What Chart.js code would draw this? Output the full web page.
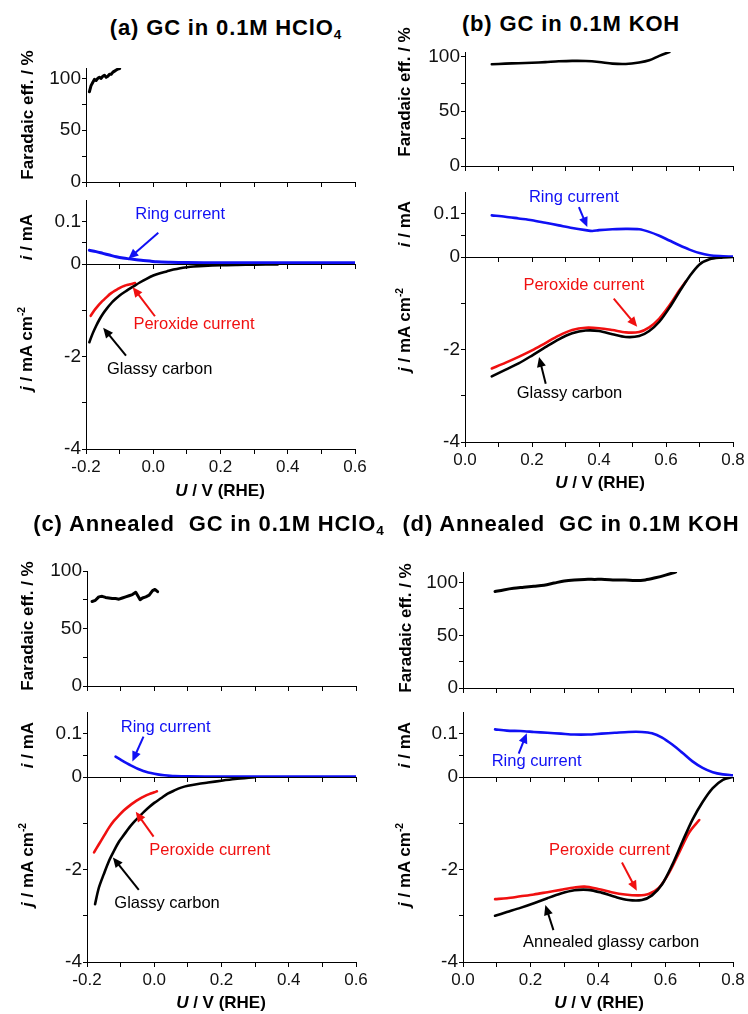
<!DOCTYPE html>
<html><head><meta charset="utf-8">
<script src="https://cdn.jsdelivr.net/npm/chart.js@4.4.1/dist/chart.umd.min.js"></script>
<style>
html,body{margin:0;padding:0;background:#fff;}
#fig{position:relative;width:748px;height:1014px;overflow:hidden;background:#fff;font-family:"Liberation Sans",Arial,sans-serif;color:#000}
#fig canvas{position:absolute}
.t{position:absolute;white-space:nowrap;transform:translate(-50%,-50%);line-height:1}
.title{font-weight:bold;font-size:22px;letter-spacing:0.85px}
.yl{font-weight:bold;font-size:17px;transform:translate(-50%,-50%) rotate(-90deg)}
.xl{font-weight:bold;font-size:17px}
sub{font-size:0.62em;vertical-align:-0.3em;line-height:0}
sup{font-size:0.6em;vertical-align:0.65em;line-height:0}
</style></head>
<body><div id="fig"></div>
<script>
// ---------- tick values / labels ----------
const xTicksAcid = [-0.2,-0.1,0,0.1,0.2,0.3,0.4,0.5,0.6];
const xLabelsAcid = ['-0.2','','0.0','','0.2','','0.4','','0.6'];
const xTicksAlk = [0,0.1,0.2,0.3,0.4,0.5,0.6,0.7,0.8];
const xLabelsAlk = ['0.0','','0.2','','0.4','','0.6','','0.8'];
const feTicks = [0,25,50,75,100];
const feLabels = ['0','','50','','100'];
const iTicks = [0,0.05,0.1];
const iLabels = ['0','','0.1'];
const jTicks = [-4,-3,-2,-1,0];
const jLabels = ['-4','','-2','',''];

// ---------- (a) GC in 0.1M HClO4 ----------
const aFE_U = [-0.19,-0.185,-0.18,-0.175,-0.17,-0.165,-0.16,-0.155,-0.15,-0.145,-0.14,-0.135,-0.13,-0.125,-0.12,-0.115,-0.11,-0.105,-0.10];
const aFE   = [87,93,96,99,98,100,101,100,102,103,101,102,104,104,106,107,108,109,109.5];
const aRing_U = [-0.19,-0.17,-0.15,-0.13,-0.11,-0.09,-0.07,-0.05,-0.03,-0.01,0.01,0.05,0.1,0.2,0.3,0.4,0.5,0.6];
const aRing   = [0.032,0.029,0.025,0.021,0.017,0.014,0.012,0.010,0.008,0.007,0.005,0.004,0.0035,0.003,0.003,0.003,0.003,0.003];
const aGC_U = [-0.19,-0.18,-0.17,-0.16,-0.15,-0.14,-0.12,-0.10,-0.08,-0.06,-0.04,-0.02,0.0,0.02,0.04,0.06,0.08,0.10,0.12,0.15,0.2,0.25,0.3,0.37];
const aGC   = [-1.69,-1.50,-1.34,-1.20,-1.08,-0.98,-0.81,-0.68,-0.58,-0.49,-0.40,-0.32,-0.25,-0.20,-0.16,-0.12,-0.09,-0.07,-0.055,-0.04,-0.025,-0.018,-0.014,-0.01];
const aPer_U = [-0.186,-0.175,-0.165,-0.155,-0.145,-0.135,-0.125,-0.115,-0.105,-0.095,-0.085,-0.075,-0.065,-0.054];
const aPer   = [-1.12,-1.00,-0.91,-0.83,-0.76,-0.69,-0.63,-0.58,-0.54,-0.50,-0.47,-0.45,-0.43,-0.41];

// ---------- (b) GC in 0.1M KOH ----------
const bFE_U = [0.08,0.12,0.16,0.2,0.24,0.28,0.32,0.36,0.40,0.44,0.48,0.52,0.55,0.58,0.61];
const bFE   = [92.8,93.4,93.8,94.2,94.8,95.5,95.9,95.8,94.9,93.4,93.1,94.5,96.5,100.5,104];
const bRing_U = [0.08,0.12,0.16,0.2,0.24,0.28,0.32,0.36,0.38,0.40,0.44,0.48,0.52,0.55,0.58,0.61,0.64,0.67,0.70,0.73,0.76,0.80];
const bRing   = [0.096,0.093,0.089,0.085,0.079,0.073,0.067,0.062,0.060,0.062,0.064,0.065,0.064,0.058,0.049,0.038,0.027,0.017,0.009,0.004,0.002,0.001];
const bGC_U = [0.08,0.12,0.16,0.2,0.24,0.28,0.32,0.36,0.40,0.44,0.48,0.52,0.55,0.58,0.61,0.64,0.67,0.70,0.73,0.76,0.80];
const bGC   = [-2.58,-2.44,-2.30,-2.13,-1.95,-1.78,-1.65,-1.59,-1.60,-1.67,-1.73,-1.71,-1.60,-1.40,-1.10,-0.75,-0.42,-0.16,-0.05,-0.015,0];
const bPer_U = [0.08,0.12,0.16,0.2,0.24,0.28,0.32,0.36,0.40,0.44,0.48,0.52,0.55,0.58,0.61,0.64,0.66];
const bPer   = [-2.41,-2.29,-2.16,-2.02,-1.86,-1.70,-1.58,-1.53,-1.54,-1.58,-1.63,-1.62,-1.52,-1.33,-1.05,-0.72,-0.52];

// ---------- (c) Annealed GC in 0.1M HClO4 ----------
const cFE_U = [-0.185,-0.175,-0.165,-0.155,-0.145,-0.135,-0.125,-0.115,-0.105,-0.095,-0.085,-0.075,-0.065,-0.055,-0.048,-0.042,-0.035,-0.025,-0.015,-0.005,0.002,0.01];
const cFE   = [73.5,74.5,77.5,78,77,76.5,76,76,75.5,76.5,77.5,78.5,79.5,81.5,78,75,76.5,77.5,79,83,84,82];
const cRing_U = [-0.115,-0.1,-0.085,-0.07,-0.055,-0.04,-0.025,-0.01,0.01,0.03,0.06,0.1,0.2,0.3,0.4,0.5,0.6];
const cRing   = [0.047,0.040,0.033,0.027,0.021,0.016,0.012,0.009,0.006,0.004,0.002,0.0015,0.001,0.001,0.001,0.001,0.001];
const cGC_U = [-0.176,-0.165,-0.15,-0.135,-0.12,-0.105,-0.09,-0.075,-0.06,-0.045,-0.03,-0.015,0.0,0.02,0.04,0.06,0.08,0.10,0.13,0.16,0.2,0.24,0.3];
const cGC   = [-2.75,-2.40,-2.10,-1.82,-1.60,-1.40,-1.25,-1.10,-0.97,-0.86,-0.75,-0.65,-0.56,-0.46,-0.36,-0.29,-0.23,-0.19,-0.15,-0.12,-0.08,-0.045,-0.005];
const cPer_U = [-0.179,-0.165,-0.15,-0.135,-0.12,-0.105,-0.09,-0.075,-0.06,-0.045,-0.03,-0.015,0.0,0.008];
const cPer   = [-1.63,-1.46,-1.28,-1.10,-0.95,-0.83,-0.72,-0.63,-0.55,-0.48,-0.42,-0.37,-0.33,-0.31];

// ---------- (d) Annealed GC in 0.1M KOH ----------
const dFE_U = [0.095,0.12,0.15,0.18,0.21,0.24,0.27,0.3,0.33,0.36,0.39,0.42,0.45,0.48,0.51,0.54,0.57,0.6,0.63];
const dFE   = [91.5,93,94.5,95.5,96.5,97.5,99.5,101.5,102.5,103,103,103,102.5,102.5,102,102.5,104.5,107,110];
const dRing_U = [0.095,0.13,0.17,0.21,0.25,0.29,0.33,0.37,0.41,0.45,0.49,0.53,0.56,0.59,0.62,0.65,0.68,0.71,0.74,0.77,0.8];
const dRing   = [0.110,0.107,0.106,0.104,0.102,0.100,0.098,0.098,0.100,0.102,0.104,0.104,0.101,0.091,0.075,0.056,0.036,0.021,0.011,0.006,0.004];
const dGC_U = [0.095,0.13,0.17,0.21,0.25,0.29,0.33,0.37,0.41,0.45,0.49,0.53,0.56,0.59,0.62,0.65,0.68,0.71,0.74,0.77,0.8];
const dGC   = [-3.00,-2.92,-2.83,-2.73,-2.62,-2.52,-2.45,-2.44,-2.50,-2.59,-2.66,-2.66,-2.56,-2.32,-1.90,-1.40,-0.92,-0.54,-0.24,-0.06,0];
const dPer_U = [0.095,0.13,0.17,0.21,0.25,0.29,0.33,0.36,0.40,0.44,0.48,0.52,0.55,0.58,0.61,0.64,0.67,0.70];
const dPer   = [-2.64,-2.62,-2.58,-2.54,-2.49,-2.44,-2.39,-2.37,-2.42,-2.49,-2.54,-2.56,-2.53,-2.40,-2.08,-1.64,-1.20,-0.93];

// ---------- helpers ----------
const FONT = '"Liberation Sans", Arial, Helvetica, sans-serif';
const BLACK = '#000', RED = '#f01010', BLUE = '#1010f4';
const fig = document.getElementById('fig');
const pts = (U, V) => U.map((u, k) => ({x: u, y: V[k]}));
const labeler = (ticks, labels) => v => {
  const k = ticks.findIndex(t => Math.abs(t - v) < 1e-9);
  return k < 0 ? '' : labels[k];
};

const arrowPlugin = {
  id: 'arrows',
  afterDatasetsDraw(chart, args, opts) {
    const items = (opts && opts.items) || [];
    const ctx = chart.ctx, xs = chart.scales.x, ys = chart.scales.y;
    items.forEach(it => {
      ctx.save();
      ctx.fillStyle = it.color; ctx.strokeStyle = it.color;
      ctx.font = '16.5px ' + FONT;
      ctx.textAlign = 'center'; ctx.textBaseline = 'middle';
      ctx.fillText(it.text, xs.getPixelForValue(it.at[0]), ys.getPixelForValue(it.at[1]));
      const x1 = xs.getPixelForValue(it.from[0]), y1 = ys.getPixelForValue(it.from[1]);
      const x2 = xs.getPixelForValue(it.to[0]), y2 = ys.getPixelForValue(it.to[1]);
      const a = Math.atan2(y2 - y1, x2 - x1), c = Math.cos(a), s = Math.sin(a);
      const hl = 10, hw = 4.5;
      ctx.lineWidth = 2;
      ctx.beginPath(); ctx.moveTo(x1, y1); ctx.lineTo(x2 - hl * 0.7 * c, y2 - hl * 0.7 * s); ctx.stroke();
      ctx.beginPath(); ctx.moveTo(x2, y2);
      ctx.lineTo(x2 - hl * c + hw * s, y2 - hl * s - hw * c);
      ctx.lineTo(x2 - hl * c - hw * s, y2 - hl * s + hw * c);
      ctx.closePath(); ctx.fill();
      ctx.restore();
    });
  }
};

function subplot(g, xr, xt, xl, showX, yr, yt, yl, sets, notes) {
  const padT = 14, padB = 14, padR = 22, yW = 60;
  const hx = showX ? 30 : 6;
  const w = g.R - g.L + yW + padR, h = g.B - g.T + padT + hx + padB;
  const cv = document.createElement('canvas');
  cv.width = w; cv.height = h;
  cv.style.left = (g.L - yW) + 'px'; cv.style.top = (g.T - padT) + 'px';
  cv.style.width = w + 'px'; cv.style.height = h + 'px';
  fig.appendChild(cv);
  new Chart(cv, {
    type: 'scatter',
    data: { datasets: sets.map(s => ({
      data: pts(s.u, s.v), showLine: true, borderColor: s.color, backgroundColor: s.color,
      borderWidth: s.w || 2.6, pointRadius: 0, tension: s.t === undefined ? 0.3 : s.t,
      fill: false, borderJoinStyle: 'round', borderCapStyle: 'round'
    })) },
    options: {
      responsive: false, animation: false, devicePixelRatio: 1, events: [],
      layout: { padding: { top: padT, right: padR, bottom: padB, left: 0 } },
      plugins: { legend: { display: false }, tooltip: { enabled: false }, arrows: { items: notes || [] } },
      scales: {
        x: {
          type: 'linear', min: xr[0], max: xr[1],
          afterBuildTicks: s => { s.ticks = xt.map(v => ({ value: v })); },
          afterFit: s => { s.height = hx; },
          ticks: { autoSkip: false, maxRotation: 0, minRotation: 0, padding: 3, color: '#111',
                   font: { family: FONT, size: 17 }, callback: showX ? labeler(xt, xl) : () => '' },
          grid: { display: true, drawOnChartArea: false, drawTicks: true, tickLength: 5, tickColor: '#000', tickWidth: 1, color: '#000' },
          border: { display: true, color: '#000', width: 1 }
        },
        y: {
          type: 'linear', min: yr[0], max: yr[1],
          afterBuildTicks: s => { s.ticks = yt.map(v => ({ value: v })); },
          afterFit: s => { s.width = yW; },
          ticks: { autoSkip: false, padding: 1, color: '#111', font: { family: FONT, size: 19 }, callback: labeler(yt, yl) },
          grid: { display: true, drawOnChartArea: false, drawTicks: true, tickLength: 4, tickColor: '#000', tickWidth: 1, color: '#000' },
          border: { display: true, color: '#000', width: 1 }
        }
      }
    },
    plugins: [arrowPlugin]
  });
}

// ---------- panel (a) ----------
subplot({L:86,R:355,T:68,B:182}, [-0.2,0.6], xTicksAcid, xLabelsAcid, false, [0,110], feTicks, feLabels,
  [{u:aFE_U, v:aFE, color:BLACK, w:3, t:0}]);
subplot({L:86,R:355,T:200,B:264}, [-0.2,0.6], xTicksAcid, xLabelsAcid, false, [0,0.15], iTicks, iLabels,
  [{u:aRing_U, v:aRing, color:BLUE, w:3}],
  [{text:'Ring current', color:BLUE, at:[0.08,0.116], from:[0.015,0.073], to:[-0.074,0.0124]}]);
subplot({L:86,R:355,T:264,B:449}, [-0.2,0.6], xTicksAcid, xLabelsAcid, true, [-4,0], jTicks, jLabels,
  [{u:aGC_U, v:aGC, color:BLACK}, {u:aPer_U, v:aPer, color:RED}],
  [{text:'Peroxide current', color:RED, at:[0.121,-1.31], from:[0.005,-1.13], to:[-0.061,-0.50]},
   {text:'Glassy carbon', color:BLACK, at:[0.019,-2.29], from:[-0.081,-1.98], to:[-0.149,-1.38]}]);

// ---------- panel (b) ----------
subplot({L:465,R:733,T:52,B:166}, [0,0.8], xTicksAlk, xLabelsAlk, false, [0,104], feTicks, feLabels,
  [{u:bFE_U, v:bFE, color:BLACK}]);
subplot({L:465,R:733,T:192,B:257}, [0,0.8], xTicksAlk, xLabelsAlk, false, [0,0.15], iTicks, iLabels,
  [{u:bRing_U, v:bRing, color:BLUE}],
  [{text:'Ring current', color:BLUE, at:[0.325,0.1376], from:[0.340,0.115], to:[0.365,0.069]}]);
subplot({L:465,R:733,T:257,B:442}, [0,0.8], xTicksAlk, xLabelsAlk, true, [-4,0], jTicks, jLabels,
  [{u:bGC_U, v:bGC, color:BLACK}, {u:bPer_U, v:bPer, color:RED}],
  [{text:'Peroxide current', color:RED, at:[0.355,-0.61], from:[0.444,-0.90], to:[0.514,-1.51]},
   {text:'Glassy carbon', color:BLACK, at:[0.312,-2.94], from:[0.241,-2.74], to:[0.221,-2.16]}]);

// ---------- panel (c) ----------
subplot({L:87,R:356,T:571,B:686}, [-0.2,0.6], xTicksAcid, xLabelsAcid, false, [0,100], feTicks, feLabels,
  [{u:cFE_U, v:cFE, color:BLACK, w:3, t:0}]);
subplot({L:87,R:356,T:712,B:777}, [-0.2,0.6], xTicksAcid, xLabelsAcid, false, [0,0.15], iTicks, iLabels,
  [{u:cRing_U, v:cRing, color:BLUE}],
  [{text:'Ring current', color:BLUE, at:[0.034,0.1135], from:[-0.032,0.093], to:[-0.065,0.036]}]);
subplot({L:87,R:356,T:777,B:962}, [-0.2,0.6], xTicksAcid, xLabelsAcid, true, [-4,0], jTicks, jLabels,
  [{u:cGC_U, v:cGC, color:BLACK}, {u:cPer_U, v:cPer, color:RED}],
  [{text:'Peroxide current', color:RED, at:[0.165,-1.58], from:[-0.002,-1.29], to:[-0.055,-0.75]},
   {text:'Glassy carbon', color:BLACK, at:[0.038,-2.74], from:[-0.046,-2.44], to:[-0.123,-1.74]}]);

// ---------- panel (d) ----------
subplot({L:463,R:733,T:572,B:688}, [0,0.8], xTicksAlk, xLabelsAlk, false, [0,110], feTicks, feLabels,
  [{u:dFE_U, v:dFE, color:BLACK, w:3}]);
subplot({L:463,R:733,T:712,B:777}, [0,0.8], xTicksAlk, xLabelsAlk, false, [0,0.15], iTicks, iLabels,
  [{u:dRing_U, v:dRing, color:BLUE}],
  [{text:'Ring current', color:BLUE, at:[0.218,0.037], from:[0.165,0.054], to:[0.189,0.101]}]);
subplot({L:463,R:733,T:777,B:962}, [0,0.8], xTicksAlk, xLabelsAlk, true, [-4,0], jTicks, jLabels,
  [{u:dGC_U, v:dGC, color:BLACK}, {u:dPer_U, v:dPer, color:RED}],
  [{text:'Peroxide current', color:RED, at:[0.434,-1.58], from:[0.471,-1.85], to:[0.515,-2.46]},
   {text:'Annealed glassy carbon', color:BLACK, at:[0.439,-3.58], from:[0.268,-3.31], to:[0.244,-2.77]}]);

// ---------- titles & axis titles ----------
const FE_T = 'Faradaic eff. / %', I_T = '<i>i</i> / mA', J_T = '<i>j</i> / mA cm<sup>-2</sup>', U_T = '<i>U</i> / V (RHE)';
const texts = [
  ['title',226,28,'(a) GC in 0.1M HClO<sub>4</sub>'], ['yl',27,115,FE_T], ['yl',26,237,I_T], ['yl',26,349,J_T], ['xl',220,490,U_T],
  ['title',571,24,'(b) GC in 0.1M KOH'], ['yl',404,92,FE_T], ['yl',404,224,I_T], ['yl',404,330,J_T], ['xl',600,482,U_T],
  ['title',209,524,'(c) Annealed&nbsp; GC in 0.1M HClO<sub>4</sub>'], ['yl',27,626,FE_T], ['yl',27,745,I_T], ['yl',27,865,J_T], ['xl',221,1002,U_T],
  ['title',571,524,'(d) Annealed&nbsp; GC in 0.1M KOH'], ['yl',405,628,FE_T], ['yl',404,745,I_T], ['yl',404,865,J_T], ['xl',599,1002,U_T]
];
texts.forEach(([cls, x, y, html]) => {
  const d = document.createElement('div');
  d.className = 't ' + cls; d.style.left = x + 'px'; d.style.top = y + 'px'; d.innerHTML = html;
  fig.appendChild(d);
});
</script></body></html>
